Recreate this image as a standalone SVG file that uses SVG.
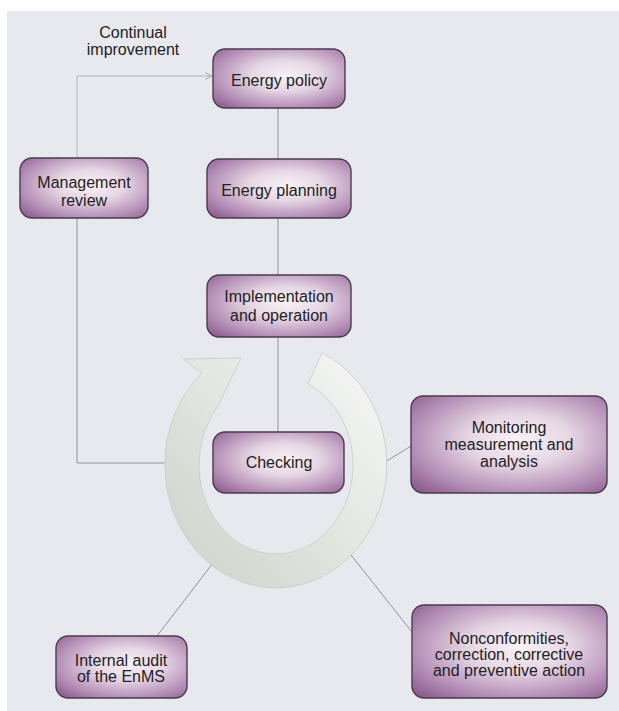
<svg xmlns="http://www.w3.org/2000/svg" width="619" height="711" viewBox="0 0 619 711">
<defs>
<style>
.box{fill:url(#boxGrad);stroke:#4a3c4c;stroke-width:1.4}
.t{font-family:"Liberation Sans",Arial,sans-serif;font-size:16px;fill:#222222;text-anchor:middle}
.ln{fill:none;stroke:#939393;stroke-width:1}
</style>
<radialGradient id="boxGrad" cx="0.55" cy="0.45" r="0.75">
<stop offset="0" stop-color="#f8f2f6"/>
<stop offset="0.35" stop-color="#e6d6e4"/>
<stop offset="0.75" stop-color="#b089b3"/>
<stop offset="1" stop-color="#875689"/>
</radialGradient>
<linearGradient id="ringGrad" gradientUnits="userSpaceOnUse" x1="385" y1="380" x2="180" y2="560">
<stop offset="0" stop-color="#f5f6f4"/>
<stop offset="1" stop-color="#d0d5cd"/>
</linearGradient>
<marker id="arr" viewBox="0 0 10 10" refX="9" refY="5" markerWidth="8" markerHeight="8" orient="auto" markerUnits="userSpaceOnUse">
<path d="M1,1 L9,5 L1,9" fill="none" stroke="#b0b0b0" stroke-width="1.3"/>
</marker>
</defs>
<rect x="0" y="0" width="619" height="711" fill="#ffffff"/>
<rect x="7" y="11" width="612" height="700" fill="#e8e9ef"/>
<text class="t" x="133" y="38">Continual</text>
<text class="t" x="133" y="55">improvement</text>
<g id="connectors">
<path class="ln" d="M77,158 V76 H212" style="stroke:#b5b5b5" marker-end="url(#arr)"/>
<path class="ln" d="M278,108 V159"/>
<path class="ln" d="M278,218 V275"/>
<path class="ln" d="M278,337 V432"/>
<path class="ln" d="M77,218 V463 H170"/>
<path class="ln" d="M411,446 L385,462"/>
<path class="ln" d="M157,636 L213,563"/>
<path class="ln" d="M412,632 L351,555"/>
</g>
<g id="cycle">
<path d="M322,353 A111 123 0 1 1 202,373 L183,359 L241,358 L217.6,407 A77 89 0 1 0 308,384 Z" fill="url(#ringGrad)" stroke="#c6cac4" stroke-width="0.8"/>
</g>
<g id="energy-policy">
<rect class="box" x="213" y="49" width="132" height="59" rx="12"/>
<text class="t" x="279" y="86">Energy policy</text>
</g>
<g id="management-review">
<rect class="box" x="20" y="158" width="128" height="60" rx="12"/>
<text class="t" x="84" y="188">Management</text>
<text class="t" x="84" y="206">review</text>
</g>
<g id="energy-planning">
<rect class="box" x="207" y="159" width="144" height="59" rx="12"/>
<text class="t" x="279" y="196">Energy planning</text>
</g>
<g id="implementation">
<rect class="box" x="207" y="275" width="144" height="62" rx="12"/>
<text class="t" x="279" y="302">Implementation</text>
<text class="t" x="279" y="321">and operation</text>
</g>
<g id="checking">
<rect class="box" x="213" y="432" width="131" height="61" rx="12"/>
<text class="t" x="279" y="468">Checking</text>
</g>
<g id="monitoring">
<rect class="box" x="411" y="396" width="196" height="97" rx="12"/>
<text class="t" x="509" y="433">Monitoring</text>
<text class="t" x="509" y="450">measurement and</text>
<text class="t" x="509" y="467">analysis</text>
</g>
<g id="internal-audit">
<rect class="box" x="56" y="636" width="131" height="62" rx="12"/>
<text class="t" x="121" y="666">Internal audit</text>
<text class="t" x="121" y="682">of the EnMS</text>
</g>
<g id="nonconformities">
<rect class="box" x="412" y="605" width="195" height="93" rx="12"/>
<text class="t" x="509" y="644">Nonconformities,</text>
<text class="t" x="509" y="660">correction, corrective</text>
<text class="t" x="509" y="676">and preventive action</text>
</g>
</svg>
